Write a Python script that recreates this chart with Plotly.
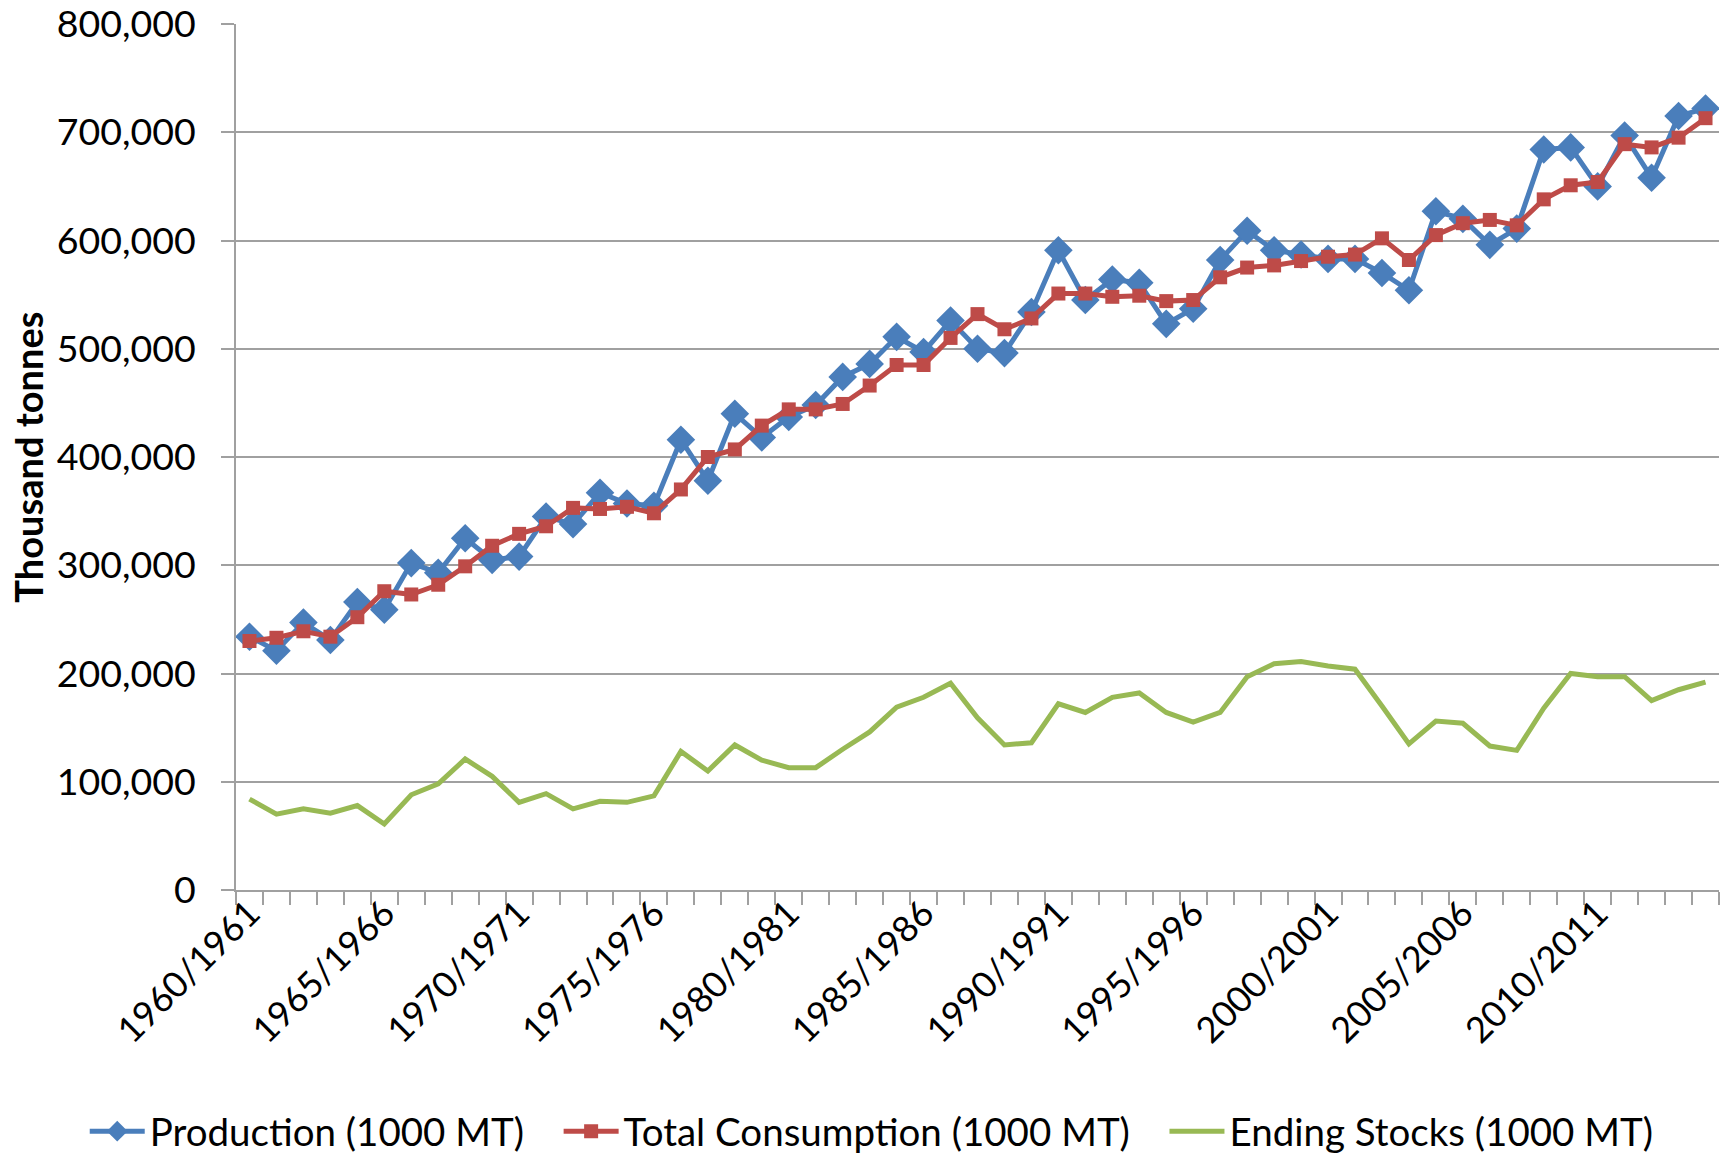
import plotly.graph_objects as go

start_years = list(range(1960, 2015))
seasons = [f"{y}/{y+1}" for y in start_years]

production = [234, 221, 247, 231, 266, 259, 302, 293, 325, 305,
              308, 345, 338, 367, 357, 355, 416, 378, 440, 418,
              437, 448, 474, 486, 511, 497, 526, 500, 496, 534,
              591, 545, 564, 561, 523, 537, 582, 609, 591, 587,
              583, 583, 570, 554, 627, 620, 596, 611, 684, 686,
              650, 697, 658, 715, 722]
consumption = [230, 233, 239, 234, 252, 276, 273, 282, 299, 318,
               329, 336, 353, 352, 354, 348, 370, 400, 407, 429,
               444, 444, 449, 466, 485, 485, 510, 532, 518, 528,
               551, 551, 548, 549, 544, 545, 566, 575, 577, 581,
               585, 587, 602, 582, 605, 616, 619, 614, 638, 651,
               654, 689, 686, 695, 713]
stocks = [84, 70, 75, 71, 78, 61, 88, 98, 121, 105,
          81, 89, 75, 82, 81, 87, 128, 110, 134, 120,
          113, 113, 130, 146, 169, 178, 191, 159, 134, 136,
          172, 164, 178, 182, 164, 155, 164, 197, 209, 211,
          207, 204, 170, 135, 156, 154, 133, 129, 168, 200,
          197, 197, 175, 185, 192]

production = [v * 1000 for v in production]
consumption = [v * 1000 for v in consumption]
stocks = [v * 1000 for v in stocks]

tick_years = start_years[::5]
tick_labels = seasons[::5]
y_title = "Thousand tonnes"

GAP = "\u00a0" * 3
FONT = "Lato"
fig = go.Figure()
fig.add_trace(go.Scatter(x=start_years, y=production, name="Production (1000 MT)" + GAP,
                         mode="lines+markers", line=dict(color="#4a7ebb", width=5),
                         marker=dict(symbol="diamond", size=22, color="#4a7ebb")))
fig.add_trace(go.Scatter(x=start_years, y=consumption, name="Total Consumption (1000 MT)" + GAP,
                         mode="lines+markers", line=dict(color="#be4b48", width=5),
                         marker=dict(symbol="square", size=14, color="#be4b48")))
fig.add_trace(go.Scatter(x=start_years, y=stocks, name="Ending Stocks (1000 MT)",
                         mode="lines", line=dict(color="#98b954", width=5)))

fig.update_layout(
    width=1731, height=1155,
    margin=dict(l=236, r=12, t=24, b=265, autoexpand=False),
    paper_bgcolor="white", plot_bgcolor="white",
    font=dict(family=FONT, size=37, color="black"),
    showlegend=True,
    legend=dict(orientation="h", x=-0.102, xanchor="left", y=-0.279, yanchor="middle",
                font=dict(size=38.5), itemwidth=55, tracegroupgap=0),
)
fig.add_annotation(text=f"<b>{y_title}</b>", xref="paper", yref="paper",
                   x=-0.1405, y=0.5, xanchor="center", yanchor="middle",
                   textangle=-90, showarrow=False, font=dict(size=38))
fig.update_xaxes(
    range=[1959.5, 2014.5], tickmode="array", tickvals=tick_years, ticktext=tick_labels,
    tickangle=-45, ticks="", showgrid=False, zeroline=False, automargin=False,
    tickfont=dict(size=36), ticklabelstandoff=-14, ticklabeloverflow="allow",
    showline=True, linecolor="#a0a0a0", linewidth=1.5,
    minor=dict(ticks="outside", tickmode="linear", tick0=1959.5, dtick=1,
               ticklen=13, tickcolor="#a0a0a0", tickwidth=1.5, showgrid=False),
)
fig.update_yaxes(
    range=[0, 800000], dtick=100000, tickformat=",", ticks="outside", ticklen=13,
    tickcolor="#a0a0a0", tickwidth=1.5, automargin=False,
    tickfont=dict(size=37.5), ticklabelstandoff=18, ticklabeloverflow="allow",
    showgrid=True, gridcolor="#a0a0a0", gridwidth=1.5, zeroline=False,
    showline=True, linecolor="#a0a0a0", linewidth=1.5,
)
fig.write_html("out.html", config={"displayModeBar": False},
               post_script="document.body.style.margin='0';document.body.style.overflow='hidden';")
